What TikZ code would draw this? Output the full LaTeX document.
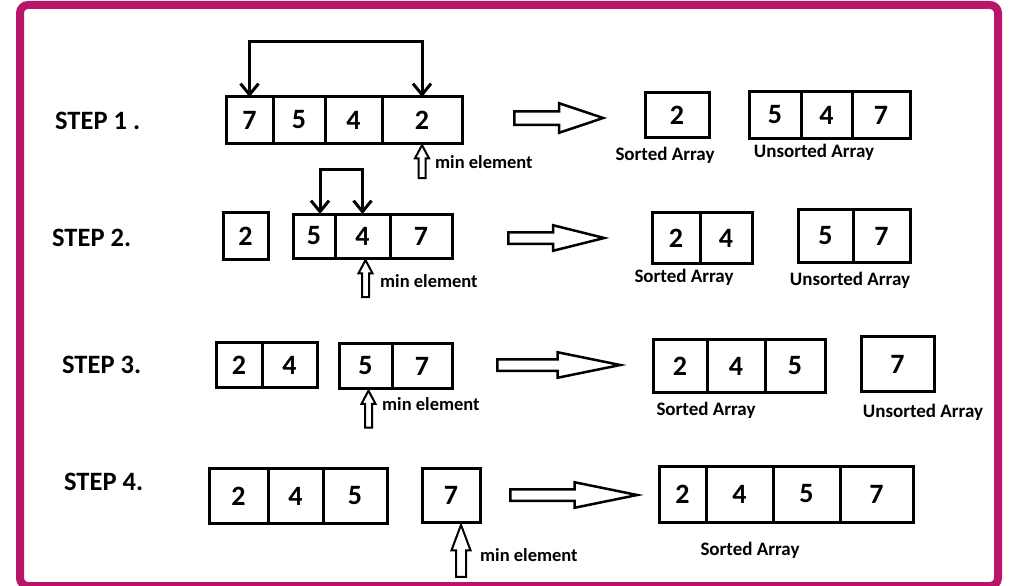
\documentclass[tikz,border=0pt]{standalone}
\usepackage{fontspec}
\setmainfont{Carlito}
\usetikzlibrary{arrows.meta,positioning,shapes.arrows}
\definecolor{framepink}{RGB}{183,22,106}
\tikzset{
  cell/.style 2 args={
    rectangle, draw, line width=3pt,
    inner sep=0pt, outer sep=0pt,
    minimum width=#1, minimum height=#2,
    font=\fontsize{28}{30}\selectfont\bfseries
  },
  steplabel/.style={anchor=west, inner sep=0pt, font=\fontsize{26.5}{29}\selectfont\bfseries},
  arraylabel/.style={inner sep=0pt, font=\fontsize{19}{21}\selectfont\bfseries},
  minlabel/.style={anchor=west, inner sep=0pt, font=\fontsize{18.5}{20}\selectfont\bfseries},
  swapline/.style={
    line width=3pt,
    {Straight Barb[length=11pt,width=18pt]}-{Straight Barb[length=11pt,width=18pt]}
  },
  bigarrow/.style={
    single arrow, draw, line width=2.5pt, inner sep=4.5pt,
    single arrow head extend=7pt, single arrow tip angle=28, anchor=tail
  },
  minarrow/.style={
    single arrow, draw, line width=2pt, inner sep=2.5pt,
    single arrow head extend=3.5pt, single arrow tip angle=56,
    rotate=90, anchor=tip
  },
  outerframe/.style={draw=framepink, line width=8pt, rounded corners=8pt}
}
\begin{document}
\begin{tikzpicture}[x=1pt, y=-1pt]
  \useasboundingbox (0,0) rectangle (1010,586);
  \draw[outerframe] (20,5) rectangle (998,586);

  % ==== STEP 1 ====
  \node[steplabel] (t1) at (55,121) {STEP 1 .};
  \node[cell={47pt}{46pt}, anchor=west] (s1a) at (226,120) {7};
  \node[cell={52pt}{46pt}, right=0pt of s1a] (s1b) {5};
  \node[cell={57pt}{46pt}, right=0pt of s1b] (s1c) {4};
  \node[cell={80pt}{46pt}, right=0pt of s1c] (s1d) {2};
  \coordinate (s1top) at (336,42);
  \draw[swapline] (s1a) |- (s1top) -| (s1d);
  \node[minarrow, minimum height=33pt] (m1) at (s1d.south) {};
  \node[minlabel] (ml1) at (435,162) {min element};
  \node[bigarrow, minimum height=89pt, single arrow tip angle=37,
        single arrow head extend=8pt, inner sep=5.5pt] (a1) at (513,118) {};
  \node[cell={64pt}{45pt}, anchor=west] (r1a) at (645,115) {2};
  \node[arraylabel] (l1s) at (665,155) {Sorted Array};
  \node[cell={52pt}{46pt}, anchor=west] (u1a) at (749,115) {5};
  \node[cell={51pt}{46pt}, right=0pt of u1a] (u1b) {4};
  \node[cell={58pt}{46pt}, right=0pt of u1b] (u1c) {7};
  \node[arraylabel] (l1u) at (814,152) {Unsorted Array};

  % ==== STEP 2 ====
  \node[steplabel] (t2) at (52,238) {STEP 2.};
  \node[cell={45pt}{47pt}, anchor=west] (p2a) at (223,236) {2};
  \node[cell={42pt}{44pt}, anchor=west] (s2a) at (293,236) {5};
  \node[cell={55pt}{44pt}, right=0pt of s2a] (s2b) {4};
  \node[cell={62pt}{44pt}, right=0pt of s2b] (s2c) {7};
  \coordinate (s2top) at (341,169);
  \draw[swapline] ([xshift=6pt]s2a.north) |- (s2top) -| (s2b.north);
  \node[minarrow, minimum height=37pt] (m2) at ([xshift=3pt]s2b.south) {};
  \node[minlabel] (ml2) at (380,281) {min element};
  \node[bigarrow, minimum height=96pt] (a2) at (507,238) {};
  \node[cell={48pt}{51pt}, anchor=west] (r2a) at (652,238) {2};
  \node[cell={52pt}{51pt}, right=0pt of r2a] (r2b) {4};
  \node[arraylabel] (l2s) at (684,277) {Sorted Array};
  \node[cell={55pt}{53pt}, anchor=west] (u2a) at (798,236) {5};
  \node[cell={57pt}{53pt}, right=0pt of u2a] (u2b) {7};
  \node[arraylabel] (l2u) at (850,280) {Unsorted Array};

  % ==== STEP 3 ====
  \node[steplabel] (t3) at (62,365) {STEP 3.};
  \node[cell={46pt}{45pt}, anchor=west] (p3a) at (216,365) {2};
  \node[cell={55pt}{45pt}, right=0pt of p3a] (p3b) {4};
  \node[cell={53pt}{45pt}, anchor=west] (s3a) at (339,366) {5};
  \node[cell={60pt}{45pt}, right=0pt of s3a] (s3b) {7};
  \node[minarrow, minimum height=37pt] (m3) at ([xshift=3pt]s3a.south) {};
  \node[minlabel] (ml3) at (382,404) {min element};
  \node[bigarrow, minimum height=123pt, single arrow tip angle=23] (a3) at (496,365) {};
  \node[cell={54pt}{53pt}, anchor=west] (r3a) at (653,366) {2};
  \node[cell={58pt}{53pt}, right=0pt of r3a] (r3b) {4};
  \node[cell={60pt}{53pt}, right=0pt of r3b] (r3c) {5};
  \node[arraylabel] (l3s) at (706,410) {Sorted Array};
  \node[cell={73pt}{55pt}, anchor=west] (u3a) at (861,364) {7};
  \node[arraylabel] (l3u) at (923,412) {Unsorted Array};

  % ==== STEP 4 ====
  \node[steplabel] (t4) at (64,482) {STEP 4.};
  \node[cell={59pt}{55pt}, anchor=west] (p4a) at (209,496) {2};
  \node[cell={55pt}{55pt}, right=0pt of p4a] (p4b) {4};
  \node[cell={64pt}{55pt}, right=0pt of p4b] (p4c) {5};
  \node[cell={58pt}{54pt}, anchor=west] (s4a) at (422,495) {7};
  \node[minarrow, minimum height=52pt, inner sep=4pt,
        single arrow head extend=4.5pt, single arrow tip angle=41] (m4) at ([xshift=10pt]s4a.south) {};
  \node[minlabel] (ml4) at (480,555) {min element};
  \node[bigarrow, minimum height=127pt, single arrow tip angle=23] (a4) at (509,495) {};
  \node[cell={47pt}{56pt}, anchor=west] (r4a) at (659,494) {2};
  \node[cell={67pt}{56pt}, right=0pt of r4a] (r4b) {4};
  \node[cell={67pt}{56pt}, right=0pt of r4b] (r4c) {5};
  \node[cell={73pt}{56pt}, right=0pt of r4c] (r4d) {7};
  \node[arraylabel] (l4s) at (750,550) {Sorted Array};
\end{tikzpicture}
\end{document}
